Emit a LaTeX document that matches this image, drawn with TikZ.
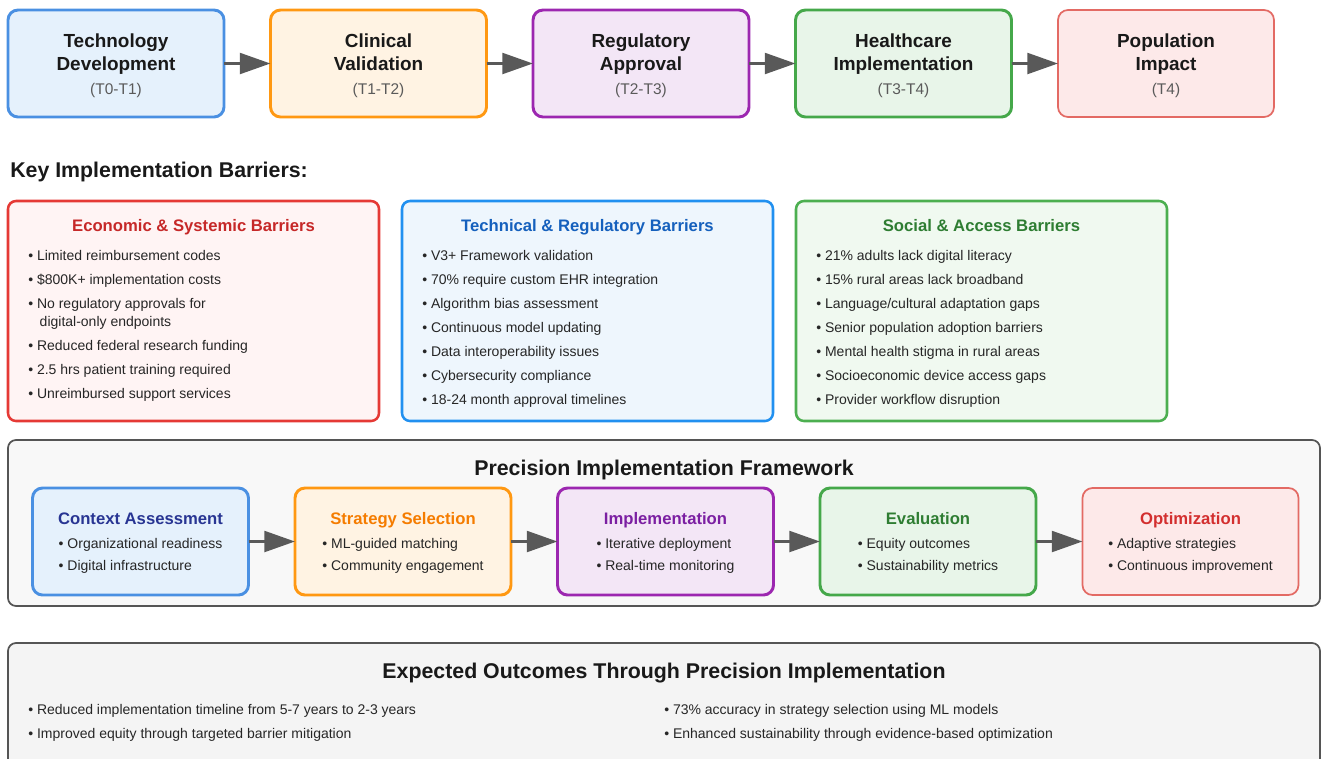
\documentclass[tikz,border=0pt]{standalone}
\usepackage{fontspec}
\setmainfont{Liberation Sans}
\usepackage{xcolor}
\usetikzlibrary{arrows.meta,positioning}

\definecolor{blueline}{HTML}{4A90E2}
\definecolor{bluefill}{HTML}{E5F1FC}
\definecolor{orangeline}{HTML}{FF9812}
\definecolor{orangefill}{HTML}{FFF3E3}
\definecolor{purpleline}{HTML}{9C27B0}
\definecolor{purplefill}{HTML}{F3E6F6}
\definecolor{greenline}{HTML}{45A84A}
\definecolor{greenfill}{HTML}{E8F5E9}
\definecolor{redline}{HTML}{E36A64}
\definecolor{redfill}{HTML}{FDE9E9}
\definecolor{econline}{HTML}{E53935}
\definecolor{econfill}{HTML}{FFF4F4}
\definecolor{econtitle}{HTML}{C62828}
\definecolor{techline}{HTML}{2190F0}
\definecolor{techfill}{HTML}{EEF6FD}
\definecolor{techtitle}{HTML}{1560BD}
\definecolor{socline}{HTML}{4CAF50}
\definecolor{socfill}{HTML}{F0F9F0}
\definecolor{soctitle}{HTML}{2E7D32}
\definecolor{ctxtitle}{HTML}{283593}
\definecolor{strattitle}{HTML}{F57C00}
\definecolor{impltitle}{HTML}{7B1FA2}
\definecolor{evaltitle}{HTML}{2E7D32}
\definecolor{optimtitle}{HTML}{D32F2F}
\definecolor{panelline}{HTML}{555555}
\definecolor{fwfill}{HTML}{F8F8F8}
\definecolor{outfill}{HTML}{F4F4F4}
\definecolor{subgray}{HTML}{5A5A5A}
\definecolor{itemtext}{HTML}{262626}
\definecolor{arrowgray}{HTML}{595959}

\newcommand{\stagetime}[1]{{\mdseries\fontsize{11.6}{14}\selectfont\color{subgray}#1}}

\tikzset{
  stagebox/.style={rectangle,rounded corners=7.5pt,line width=2.2pt,outer sep=0pt,minimum width=162pt,minimum height=80.25pt,align=center,font=\bfseries\fontsize{14.2}{17.25}\selectfont,text=black!90},
  barrierbox/.style={rectangle,rounded corners=6pt,line width=1.9pt,outer sep=0pt,minimum width=278.25pt,minimum height=165pt},
  phasebox/.style={rectangle,rounded corners=7.5pt,line width=2.2pt,outer sep=0pt,minimum width=162pt,minimum height=80.25pt},
  panel/.style={rectangle,rounded corners=6pt,draw=panelline,line width=1.3pt,outer sep=0pt,minimum width=984pt},
  heading/.style={inner sep=0pt,font=\bfseries\fontsize{16}{19}\selectfont,text=black!90,text height=11.5pt,text depth=0pt},
  boxtitle/.style={inner sep=0pt,font=\bfseries\fontsize{12.5}{15}\selectfont,text height=9pt,text depth=0pt},
  itemlist/.style={inner sep=0pt,align=left,font=\fontsize{10.5}{18}\selectfont,text=itemtext},
  phaselist/.style={itemlist,font=\fontsize{10.5}{16.5}\selectfont},
  arrow/.style={-{Triangle[length=23pt,width=15.5pt]},line width=2.5pt,draw=arrowgray}
}

\begin{document}
\begin{tikzpicture}[x=0.75pt,y=-0.75pt,node distance=34.875pt]
  \useasboundingbox (0,0) rectangle (1321,758);

  % translation stages T0 -> T4
  \node[stagebox,draw=blueline,fill=bluefill] (techdev) at (116,63.5) {\rule{0pt}{13.5pt}Technology\\Development\\[1.2pt]\stagetime{(T0-T1)}};
  \node[stagebox,draw=orangeline,fill=orangefill,right=of techdev] (clinval) {\rule{0pt}{13.5pt}Clinical\\Validation\\[1.2pt]\stagetime{(T1-T2)}};
  \node[stagebox,draw=purpleline,fill=purplefill,right=of clinval] (regappr) {\rule{0pt}{13.5pt}Regulatory\\Approval\\[1.2pt]\stagetime{(T2-T3)}};
  \node[stagebox,draw=greenline,fill=greenfill,right=of regappr] (hcimpl) {\rule{0pt}{13.5pt}Healthcare\\Implementation\\[1.2pt]\stagetime{(T3-T4)}};
  \node[stagebox,draw=redline,fill=redfill,line width=1.3pt,right=of hcimpl] (popimpact) {\rule{0pt}{13.5pt}Population\\Impact\\[1.2pt]\stagetime{(T4)}};

  \draw[arrow] (techdev) -- (clinval);
  \draw[arrow] (clinval) -- (regappr);
  \draw[arrow] (regappr) -- (hcimpl);
  \draw[arrow] (hcimpl) -- (popimpact);

  % barriers
  \node[heading,anchor=west] (barhead) at (10,170) {Key Implementation Barriers:};
  \node[barrierbox,draw=econline,fill=econfill] (econ) at (193.5,311) {};
  \node[barrierbox,draw=techline,fill=techfill,right=17.25pt of econ] (tech) {};
  \node[barrierbox,draw=socline,fill=socfill,right=17.25pt of tech] (social) {};

  \node[boxtitle,text=econtitle] (econ-title) at ([yshift=-18pt]econ.north) {Economic \& Systemic Barriers};
  \node[boxtitle,text=techtitle] (tech-title) at ([yshift=-18pt]tech.north) {Technical \& Regulatory Barriers};
  \node[boxtitle,text=soctitle] (social-title) at ([yshift=-18pt]social.north) {Social \& Access Barriers};

  \node[itemlist,below right=36.75pt and 15pt of econ.north west] (econ-list) {• Limited reimbursement codes\\
    • \$800K+ implementation costs\\
    • No regulatory approvals for\\[-4.5pt]
    \phantom{• }\hspace{2pt}digital-only endpoints\\
    • Reduced federal research funding\\
    • 2.5 hrs patient training required\\
    • Unreimbursed support services};
  \node[itemlist,below right=36.75pt and 15pt of tech.north west] (tech-list) {• V3+ Framework validation\\
    • 70\% require custom EHR integration\\
    • Algorithm bias assessment\\
    • Continuous model updating\\
    • Data interoperability issues\\
    • Cybersecurity compliance\\
    • 18-24 month approval timelines};
  \node[itemlist,below right=36.75pt and 15pt of social.north west] (social-list) {• 21\% adults lack digital literacy\\
    • 15\% rural areas lack broadband\\
    • Language/cultural adaptation gaps\\
    • Senior population adoption barriers\\
    • Mental health stigma in rural areas\\
    • Socioeconomic device access gaps\\
    • Provider workflow disruption};

  % framework panel
  \node[panel,fill=fwfill,minimum height=124.5pt] (fwpanel) at (664,523) {};
  \node[heading] (fw-head) at (664,468) {Precision Implementation Framework};

  \node[phasebox,draw=blueline,fill=bluefill] (context) at (140.5,541.5) {};
  \node[phasebox,draw=orangeline,fill=orangefill,right=of context] (strategy) {};
  \node[phasebox,draw=purpleline,fill=purplefill,right=of strategy] (implement) {};
  \node[phasebox,draw=greenline,fill=greenfill,right=of implement] (evaluate) {};
  \node[phasebox,draw=redline,fill=redfill,line width=1.3pt,right=of evaluate] (optimize) {};

  \node[boxtitle,text=ctxtitle] (context-title) at ([yshift=17.6pt]context.center) {Context Assessment};
  \node[boxtitle,text=strattitle] (strategy-title) at ([yshift=17.6pt]strategy.center) {Strategy Selection};
  \node[boxtitle,text=impltitle] (implement-title) at ([yshift=17.6pt]implement.center) {Implementation};
  \node[boxtitle,text=evaltitle] (evaluate-title) at ([yshift=17.6pt]evaluate.center) {Evaluation};
  \node[boxtitle,text=optimtitle] (optimize-title) at ([yshift=17.6pt]optimize.center) {Optimization};

  \node[phaselist,anchor=north] (context-list) at ([yshift=2.6pt]context.center) {• Organizational readiness\\• Digital infrastructure};
  \node[phaselist,anchor=north] (strategy-list) at ([yshift=2.6pt]strategy.center) {• ML-guided matching\\• Community engagement};
  \node[phaselist,anchor=north] (implement-list) at ([yshift=2.6pt]implement.center) {• Iterative deployment\\• Real-time monitoring};
  \node[phaselist,anchor=north] (evaluate-list) at ([yshift=2.6pt]evaluate.center) {• Equity outcomes\\• Sustainability metrics};
  \node[phaselist,anchor=north] (optimize-list) at ([yshift=2.6pt]optimize.center) {• Adaptive strategies\\• Continuous improvement};

  \draw[arrow] (context) -- (strategy);
  \draw[arrow] (strategy) -- (implement);
  \draw[arrow] (implement) -- (evaluate);
  \draw[arrow] (evaluate) -- (optimize);

  % expected outcomes
  \node[panel,fill=outfill,minimum height=97.5pt] (outpanel) at (664,708) {};
  \node[heading] (out-head) at (664,671) {Expected Outcomes Through Precision Implementation};
  \node[itemlist,anchor=north west] (out-left) at (28,704) {• Reduced implementation timeline from 5-7 years to 2-3 years\\
    • Improved equity through targeted barrier mitigation};
  \node[itemlist,anchor=north west] (out-right) at (664,704) {• 73\% accuracy in strategy selection using ML models\\
    • Enhanced sustainability through evidence-based optimization};
\end{tikzpicture}
\end{document}
